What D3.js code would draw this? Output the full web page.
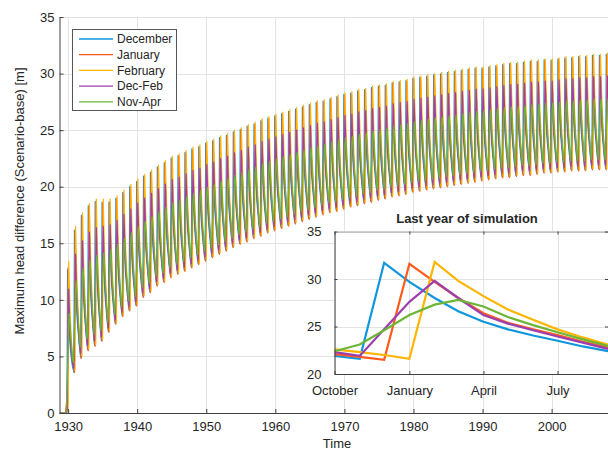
<!DOCTYPE html>
<html>
<head>
<meta charset="utf-8">
<title>head difference</title>
<script src="https://cdn.jsdelivr.net/npm/d3@7/dist/d3.min.js"></script>
<style>
  body { margin: 0; background: #fff; }
  svg text { font-family: "Liberation Sans", Arial, sans-serif; fill: #262626; }
</style>
</head>
<body>
<svg id="chart" width="608" height="450"></svg>
<script>

var seriesNames = ["December", "January", "February", "Dec-Feb", "Nov-Apr"];
var seriesColors = ["#0f96dc", "#ff5a1e", "#ffb400", "#9c3fae", "#6cb536"];

// water years (Oct of year-1 .. Sep of year), yearly max (Feb scenario) and
// yearly min (start of water year)
var years = d3.range(1930, 2009);
var peaks = [13.4, 16.5, 17.7, 18.5, 18.9, 18.9, 18.9, 19.2, 19.7, 20.2,
             20.7, 21.1, 21.5, 21.9, 22.3, 22.7, 22.9, 23.2, 23.5, 23.7,
             24.0, 24.2, 24.5, 24.7, 25.0, 25.2, 25.5, 25.7, 26.0, 26.2,
             26.4, 26.6, 26.8, 27.0, 27.2, 27.4, 27.6, 27.7, 27.9, 28.1,
             28.3, 28.4, 28.6, 28.7, 28.9, 29.0, 29.1, 29.3, 29.4, 29.5,
             29.7, 29.8, 29.9, 30.0, 30.1, 30.2, 30.3, 30.4, 30.5, 30.6,
             30.6, 30.7, 30.8, 30.9, 31.0, 31.0, 31.1, 31.2, 31.2, 31.3,
             31.3, 31.4, 31.5, 31.5, 31.6, 31.6, 31.7, 31.7, 31.8];
var troughs = [0, 3.6, 4.9, 5.6, 6.0, 6.4, 7.2, 7.9, 8.6, 9.1,
               9.5, 10.3, 10.7, 11.3, 11.6, 12.05, 12.35, 12.6, 12.9, 13.2,
               13.5, 13.8, 14.1, 14.4, 14.7, 15.0, 15.2, 15.5, 15.7, 16.0,
               16.2, 16.4, 16.6, 16.8, 17.0, 17.2, 17.4, 17.6, 17.8, 17.9,
               18.1, 18.3, 18.4, 18.6, 18.7, 18.9, 19.0, 19.2, 19.3, 19.4,
               19.6, 19.7, 19.8, 19.9, 20.0, 20.1, 20.2, 20.3, 20.4, 20.5,
               20.6, 20.7, 20.8, 20.9, 20.9, 21.0, 21.1, 21.1, 21.2, 21.3,
               21.3, 21.4, 21.4, 21.5, 21.5, 21.5, 21.6, 21.6, 21.6];

// last year of simulation, monthly Oct 2007 .. Sep 2008 (inset)
var insetTicks = ["October", "January", "April", "July"];
var lastDec    = [21.9, 21.6, 31.7, 29.7, 28.0, 26.6, 25.5, 24.7, 24.05, 23.5, 22.9, 22.4];
var lastJan    = [22.1, 21.8, 21.5, 31.6, 29.7, 28.0, 26.4, 25.4, 24.7, 24.1, 23.4, 22.8];
var lastFeb    = [22.6, 22.3, 22.0, 21.6, 31.8, 29.8, 28.2, 26.8, 25.7, 24.7, 23.85, 23.1];
var lastDecFeb = [22.3, 21.9, 24.7, 27.6, 29.8, 28.0, 26.2, 25.3, 24.6, 23.95, 23.3, 22.65];
var lastNovApr = [22.4, 23.1, 24.6, 26.2, 27.3, 27.8, 27.1, 26.0, 25.15, 24.4, 23.65, 22.95];
var lastYear = [lastDec, lastJan, lastFeb, lastDecFeb, lastNovApr];

var svg = d3.select("#chart");
svg.append("rect").attr("width", 608).attr("height", 450).attr("fill", "#fff");

var gridColor = "#e3e3e3", axisColor = "#404040";

// ---------- main axes ----------
var x = d3.scaleLinear().domain([1928.75, 2008.67]).range([59.5, 611.5]);
var y = d3.scaleLinear().domain([0, 35]).range([413, 17]);

var main = svg.append("g");
main.append("defs").append("clipPath").attr("id", "clipMain")
    .append("rect").attr("x", 59.5).attr("y", 16).attr("width", 560).attr("height", 398);

var xTicks = d3.range(1930, 2010, 10);
var yTicks = d3.range(0, 36, 5);

main.append("g").selectAll("line").data(xTicks).enter().append("line")
    .attr("x1", function (d) { return Math.round(x(d)) + 0.5; })
    .attr("x2", function (d) { return Math.round(x(d)) + 0.5; })
    .attr("y1", y(35)).attr("y2", y(0))
    .attr("stroke", gridColor);
main.append("g").selectAll("line").data(yTicks).enter().append("line")
    .attr("x1", x.range()[0]).attr("x2", 612)
    .attr("y1", function (d) { return Math.round(y(d)) + 0.5; })
    .attr("y2", function (d) { return Math.round(y(d)) + 0.5; })
    .attr("stroke", gridColor);

// build monthly curves: each year uses the shape of the last year, stretched
// between that year's min and max
var lastPeak = d3.max(lastFeb), lastTrough = troughs[troughs.length - 1];
var mainSeries = lastYear.map(function (prof) {
    var pts = [];
    for (var m = 0; m < 12; m++) pts.push([1928.75 + m / 12, 0]);
    years.forEach(function (Y, i) {
        var t0 = troughs[i];
        var t1 = i + 1 < troughs.length ? troughs[i + 1] : troughs[i];
        var base = function (m) { return t0 + (t1 - t0) * (m - 1) / 12; };
        var k = (peaks[i] - base(4)) / (lastPeak - lastTrough);
        for (var m = 0; m < 12; m++) {
            pts.push([Y - 1 + (9 + m) / 12, Math.max(0, base(m) + (prof[m] - lastTrough) * k)]);
        }
    });
    return pts;
});

var mainLine = d3.line()
    .x(function (d) { return x(d[0]); })
    .y(function (d) { return y(d[1]); });

main.append("g").attr("clip-path", "url(#clipMain)")
    .selectAll("path").data(mainSeries).enter().append("path")
    .attr("d", mainLine)
    .attr("fill", "none")
    .attr("stroke", function (d, i) { return seriesColors[i]; })
    .attr("stroke-width", 1.2)
    .attr("stroke-linejoin", "round");

// axis lines + inward ticks
var xAxis = d3.axisBottom(x).tickValues(xTicks).tickFormat(d3.format("d")).tickSizeInner(-4).tickSizeOuter(0).tickPadding(9);
var yAxis = d3.axisLeft(y).tickValues(yTicks).tickSizeInner(-4).tickSizeOuter(0).tickPadding(5);

var gx = main.append("g").attr("transform", "translate(0," + y(0) + ")").call(xAxis);
var gy = main.append("g").attr("transform", "translate(" + x.range()[0] + ",0)").call(yAxis);
[gx, gy].forEach(function (g) {
    g.select(".domain").attr("stroke", axisColor);
    g.selectAll(".tick line").attr("stroke", axisColor);
    g.selectAll("text").style("font-size", "13px").attr("fill", "#262626")
        .style("font-family", "'Liberation Sans', Arial, sans-serif");
});

svg.append("text").attr("x", 337).attr("y", 448).attr("text-anchor", "middle")
    .style("font-size", "13px").text("Time");
svg.append("text").attr("transform", "translate(24,201) rotate(-90)")
    .attr("text-anchor", "middle").style("font-size", "13px")
    .text("Maximum head difference (Scenario-base) [m]");

// legend
var legend = svg.append("g");
legend.append("rect").attr("x", 72.5).attr("y", 29.5).attr("width", 104).attr("height", 81)
    .attr("fill", "#fff").attr("stroke", "#555");
seriesNames.forEach(function (name, i) {
    var cy = 39 + i * 15.7;
    legend.append("line").attr("x1", 79).attr("x2", 113).attr("y1", cy).attr("y2", cy)
        .attr("stroke", seriesColors[i]).attr("stroke-width", 1.3);
    legend.append("text").attr("x", 117).attr("y", cy + 4.3).style("font-size", "12px").text(name);
});

// ---------- inset ----------
var months = d3.range(12).map(function (m) { return new Date(2007, 9 + m, 1); });
var ix = d3.scaleTime().domain([months[0], months[11]]).range([334.5, 608]);
var iy = d3.scaleLinear().domain([20, 35]).range([374, 231.5]);
var iTickDates = [new Date(2007, 9, 1), new Date(2008, 0, 1), new Date(2008, 3, 1), new Date(2008, 6, 1)];
var iyTicks = [20, 25, 30, 35];

var inset = svg.append("g");
inset.append("rect").attr("x", 334.5).attr("y", 231.5).attr("width", 274).attr("height", 142.5)
    .attr("fill", "#fff");
inset.append("g").selectAll("line").data(iTickDates).enter().append("line")
    .attr("x1", function (d) { return Math.round(ix(d)) + 0.5; })
    .attr("x2", function (d) { return Math.round(ix(d)) + 0.5; })
    .attr("y1", iy(35)).attr("y2", iy(20)).attr("stroke", gridColor);
inset.append("g").selectAll("line").data(iyTicks).enter().append("line")
    .attr("x1", 334.5).attr("x2", 608)
    .attr("y1", function (d) { return Math.round(iy(d)) + 0.5; })
    .attr("y2", function (d) { return Math.round(iy(d)) + 0.5; })
    .attr("stroke", gridColor);

var insetLine = d3.line()
    .x(function (d, i) { return ix(months[i]); })
    .y(function (d) { return iy(d); });
inset.append("g").selectAll("path").data(lastYear).enter().append("path")
    .attr("d", insetLine)
    .attr("fill", "none")
    .attr("stroke", function (d, i) { return seriesColors[i]; })
    .attr("stroke-width", 2.2)
    .attr("stroke-linejoin", "miter");

var ixAxis = d3.axisBottom(ix).tickValues(iTickDates)
    .tickFormat(function (d, i) { return insetTicks[i]; })
    .tickSizeInner(-3).tickSizeOuter(0).tickPadding(12);
var iyAxis = d3.axisLeft(iy).tickValues(iyTicks).tickSizeInner(-3).tickSizeOuter(0).tickPadding(13);
var igx = inset.append("g").attr("transform", "translate(0," + iy(20) + ")").call(ixAxis);
var igy = inset.append("g").attr("transform", "translate(334.5,0)").call(iyAxis);
var igxTop = inset.append("g").attr("transform", "translate(0," + iy(35) + ")")
    .call(d3.axisTop(ix).tickValues(iTickDates).tickFormat("").tickSizeInner(-3).tickSizeOuter(0));
var igyRight = inset.append("g").attr("transform", "translate(608,0)")
    .call(d3.axisRight(iy).tickValues(iyTicks).tickFormat("").tickSizeInner(-3).tickSizeOuter(0));
[igx, igy].forEach(function (g) {
    g.select(".domain").attr("stroke", axisColor);
    g.selectAll(".tick line").attr("stroke", axisColor);
    g.selectAll("text").style("font-size", "13px").attr("fill", "#262626")
        .style("font-family", "'Liberation Sans', Arial, sans-serif");
});
[igxTop, igyRight].forEach(function (g) {
    g.select(".domain").attr("stroke", "#a0a0a0");
    g.selectAll(".tick line").attr("stroke", axisColor);
});

svg.append("text").attr("x", 467).attr("y", 223).attr("text-anchor", "middle")
    .style("font-size", "13px").style("font-weight", "bold").text("Last year of simulation");

</script>
</body>
</html>
